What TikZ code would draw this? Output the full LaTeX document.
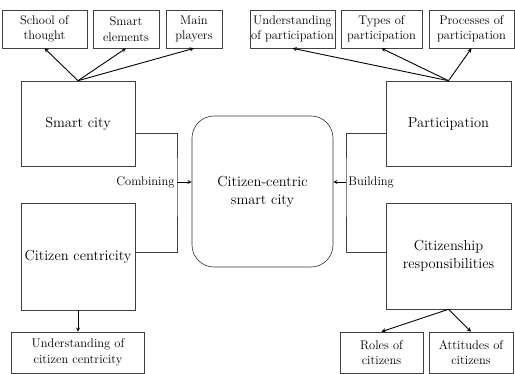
\documentclass[tikz,border=0pt]{standalone}
\usetikzlibrary{arrows}
\newcommand{\bigfont}{\fontsize{14.5}{18}\selectfont}
\newcommand{\smallfont}{\fontsize{12.5}{15.5}\selectfont}
\begin{document}
\begin{tikzpicture}[
    x=1pt, y=-1pt,
    bigbox/.style={rectangle, draw=black!75, line width=0.6pt, minimum width=114pt, minimum height=85pt, font=\bigfont, align=center, inner sep=1pt},
    smallbox/.style={rectangle, draw=black!75, line width=0.6pt, minimum width=85pt, minimum height=38pt, font=\smallfont, align=center, inner sep=1pt},
    hubbox/.style={rectangle, draw=black!80, line width=0.6pt, rounded corners=22pt, minimum width=141pt, minimum height=151pt, font=\bigfont, align=center},
    myline/.style={line width=0.6pt, draw=black!75},
    myarrow/.style={->, >=stealth, line width=0.9pt},
]
\useasboundingbox (0,0) rectangle (515,374);

\node[hubbox] (hub) at (262.5,191.5) {Citizen-centric\\smart city};

\node[bigbox] (smart) at (78,123.5) {Smart city};
\node[bigbox, minimum height=107pt] (cc) at (78,256.5) {Citizen centricity};
\node[bigbox, minimum width=125pt] (part) at (448.5,123.5) {Participation};
\node[bigbox, minimum width=125pt, minimum height=106pt] (cresp) at (448.5,256) {Citizenship\\responsibilities};

\node[smallbox] (school) at (44.5,29) {School of\\thought};
\node[smallbox, minimum width=66pt] (elem) at (126,29) {Smart\\elements};
\node[smallbox, minimum width=56pt] (players) at (194,29) {Main\\players};
\node[smallbox] (upart) at (292.5,29) {Understanding\\of participation};
\node[smallbox, minimum width=81pt] (tpart) at (381.5,29) {Types of\\participation};
\node[smallbox] (ppart) at (471.5,29) {Processes of\\participation};
\node[smallbox, minimum width=133pt, minimum height=41pt] (ucc) at (78,352.5) {Understanding of\\citizen centricity};
\node[smallbox, minimum width=83pt, minimum height=41pt] (roles) at (381.5,352.5) {Roles of\\citizens};
\node[smallbox, minimum width=84pt, minimum height=41pt] (attit) at (471,352.5) {Attitudes of\\citizens};

\coordinate (comb) at (177,182);
\coordinate (build) at (346,182);

\draw[myarrow] (smart.north) -- (school.south);
\draw[myarrow] (smart.north) -- (elem.south);
\draw[myarrow] (smart.north) -- (players.south);
\draw[myarrow] (part.north) -- (upart.south);
\draw[myarrow] (part.north) -- (tpart.south);
\draw[myarrow] (part.north) -- (ppart.south);
\draw[myarrow] (cc.south) -- (ucc.north);
\draw[myarrow] (cresp.south) -- (roles.north);
\draw[myarrow] (cresp.south) -- (attit.north);

% joining lines into the hub
\draw[myline] ([yshift=-9.5pt]smart.east) -| (comb) |- ([yshift=4.5pt]cc.east);
\draw[myline] ([yshift=-9.5pt]part.west) -| (build) |- ([yshift=4pt]cresp.west);
\draw[myarrow] (comb) -- (comb -| hub.west) node[pos=0, left=2pt, inner sep=0pt, font=\smallfont] {Combining};
\draw[myarrow] (build) -- (build -| hub.east) node[pos=0, right=2pt, inner sep=0pt, font=\smallfont] {Building};
\end{tikzpicture}
\end{document}
